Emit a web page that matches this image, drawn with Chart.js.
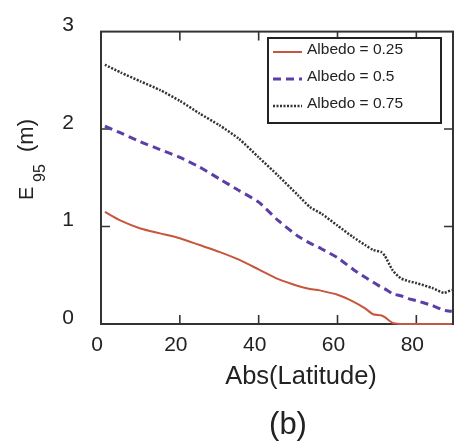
<!DOCTYPE html>
<html>
<head>
<meta charset="utf-8">
<script src="https://cdn.jsdelivr.net/npm/chart.js@4"></script>
<style>
  html, body { margin: 0; padding: 0; background: #fff; }
  #wrap { width: 454px; height: 443px; }
</style>
</head>
<body>
<div id="wrap"><canvas id="albedoChart" width="454" height="443"></canvas></div>
<script>
// values
const latitude = [1, 5, 10, 15, 20, 25, 30, 35, 40, 45, 50, 53, 56, 60, 64, 67, 69, 71, 72, 74, 76, 78, 80, 84, 87, 89];
const albedo025 = [1.15, 1.06, 0.98, 0.93, 0.88, 0.81, 0.74, 0.66, 0.56, 0.46, 0.39, 0.36, 0.34, 0.30, 0.23, 0.16, 0.10, 0.09, 0.07, 0.01, 0, 0, 0, 0, 0, 0];
const albedo050 = [2.03, 1.96, 1.87, 1.79, 1.71, 1.61, 1.49, 1.37, 1.25, 1.06, 0.90, 0.83, 0.77, 0.68, 0.56, 0.48, 0.43, 0.38, 0.36, 0.31, 0.29, 0.26, 0.24, 0.19, 0.14, 0.13];
const albedo075 = [2.66, 2.58, 2.49, 2.40, 2.29, 2.16, 2.04, 1.90, 1.71, 1.52, 1.32, 1.20, 1.13, 1.01, 0.89, 0.81, 0.76, 0.74, 0.70, 0.55, 0.47, 0.44, 0.42, 0.37, 0.32, 0.35];
const seriesLabels = ['Albedo = 0.25', 'Albedo = 0.5', 'Albedo = 0.75'];
const xTicks = [0, 20, 40, 60, 80];
const yTicks = [0, 1, 2, 3];

const FONT = "'Liberation Sans', Arial, sans-serif";

function toPoints(ys) {
    return latitude.map((x, i) => ({ x: x, y: ys[i] }));
}

const styles = [
    { color: '#c8553d', dash: [], width: 2 },
    { color: '#5b3ea6', dash: [8, 5], width: 3 },
    { color: '#333333', dash: [2, 1.5], width: 2.5 }
];

// frame + inward ticks, drawn before the lines
const framePlugin = {
    id: 'frame',
    beforeDatasetsDraw(chart) {
        const { ctx, chartArea: a, scales } = chart;
        ctx.save();
        ctx.strokeStyle = '#333';
        ctx.lineWidth = 2;
        ctx.strokeRect(a.left, a.top, a.right - a.left, a.bottom - a.top);
        ctx.lineWidth = 1.6;
        ctx.beginPath();
        xTicks.forEach(v => {
            const px = scales.x.getPixelForValue(v);
            if (v === 0) return;
            ctx.moveTo(px, a.bottom); ctx.lineTo(px, a.bottom - 9);
            ctx.moveTo(px, a.top); ctx.lineTo(px, a.top + 9);
        });
        yTicks.forEach(v => {
            const py = scales.y.getPixelForValue(v);
            if (v === 0 || v === 3) return;
            ctx.moveTo(a.left, py); ctx.lineTo(a.left + 9, py);
            ctx.moveTo(a.right, py); ctx.lineTo(a.right - 9, py);
        });
        ctx.stroke();
        ctx.restore();
    }
};

// legend box, axis titles and panel tag
const decorPlugin = {
    id: 'decor',
    afterDraw(chart) {
        const ctx = chart.ctx;
        ctx.save();
        // legend
        ctx.fillStyle = '#fff';
        ctx.fillRect(268, 38, 173, 85);
        ctx.strokeStyle = '#222';
        ctx.lineWidth = 2;
        ctx.strokeRect(268, 38, 173, 85);
        const rows = [50, 77, 104];
        seriesLabels.forEach((lab, i) => {
            const s = styles[i];
            ctx.strokeStyle = s.color;
            ctx.lineWidth = s.width;
            ctx.setLineDash(s.dash);
            ctx.beginPath();
            ctx.moveTo(273, rows[i] + 2);
            ctx.lineTo(302, rows[i] + 2);
            ctx.stroke();
            ctx.setLineDash([]);
            ctx.fillStyle = '#222';
            ctx.font = '15.5px ' + FONT;
            ctx.textAlign = 'left';
            ctx.textBaseline = 'middle';
            ctx.fillText(lab, 307, rows[i]);
        });

        ctx.fillStyle = '#222';
        ctx.textBaseline = 'alphabetic';
        // x title
        ctx.font = '25.5px ' + FONT;
        ctx.textAlign = 'center';
        ctx.fillText('Abs(Latitude)', 301, 384);
        // panel tag
        ctx.font = '31px ' + FONT;
        ctx.fillText('(b)', 288, 434);

        // y title with subscript
        ctx.translate(33, 200);
        ctx.rotate(-Math.PI / 2);
        ctx.textAlign = 'left';
        ctx.font = '20px ' + FONT;
        ctx.fillText('E', 0, 0);
        ctx.font = '16px ' + FONT;
        ctx.fillText('95', 18, 12);
        ctx.font = '22px ' + FONT;
        ctx.fillText('(m)', 48, 0);
        ctx.restore();
    }
};

const datasets = [albedo025, albedo050, albedo075].map((ys, i) => ({
    label: seriesLabels[i],
    data: toPoints(ys),
    borderColor: styles[i].color,
    borderDash: styles[i].dash,
    borderWidth: styles[i].width,
    pointRadius: 0,
    fill: false,
    tension: 0.2,
    clip: 4
}));

new Chart(document.getElementById('albedoChart'), {
    type: 'line',
    data: { datasets: datasets },
    options: {
        responsive: false,
        animation: false,
        layout: { padding: { top: 23, right: 1, left: 0, bottom: 0 } },
        plugins: {
            legend: { display: false },
            tooltip: { enabled: false }
        },
        scales: {
            x: {
                type: 'linear',
                min: 0,
                max: 89.3,
                afterFit(scale) { scale.height = 119; },
                grid: { display: false },
                border: { display: false },
                ticks: {
                    stepSize: 20,
                    includeBounds: false,
                    padding: 1,
                    labelOffset: -4,
                    color: '#222',
                    font: { family: FONT, size: 21 },
                    maxRotation: 0
                }
            },
            y: {
                min: 0,
                max: 3,
                afterFit(scale) { scale.width = 101; },
                grid: { display: false },
                border: { display: false },
                ticks: {
                    stepSize: 1,
                    padding: 19,
                    labelOffset: -6,
                    color: '#222',
                    font: { family: FONT, size: 21 }
                }
            }
        }
    },
    plugins: [framePlugin, decorPlugin]
});
</script>
</body>
</html>
